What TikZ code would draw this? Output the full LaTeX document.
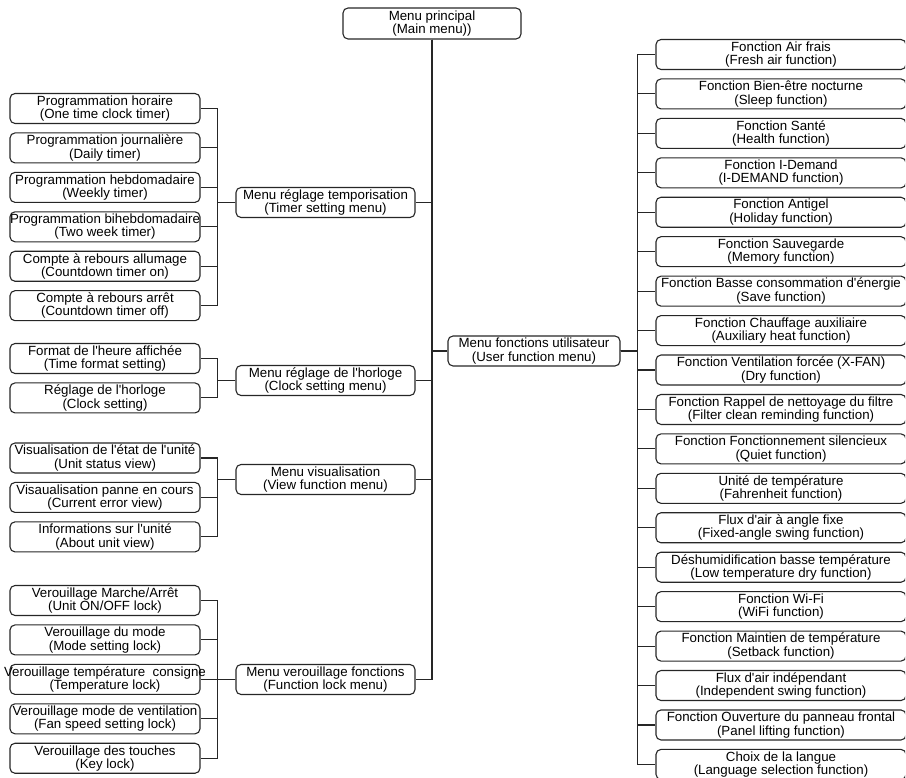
\documentclass[tikz,border=0pt]{standalone}
\usepackage{fontspec}
\setmainfont{Liberation Sans}[Ligatures=TeXOff]
\usetikzlibrary{positioning}
% two centred lines that may run past the box edge
\newcommand{\tworow}[2]{\makebox[0pt]{#1}\\\makebox[0pt]{#2}}

\begin{document}
\begin{tikzpicture}[x=1pt, y=-1pt, node distance=39.44pt, line width=1.1pt,
    every node/.style={font=\fontsize{13.3}{13.4}\selectfont},
    menubox/.style={draw=black!85, rounded corners=5pt, align=center, minimum height=30pt, inner sep=0pt},
    leafbox/.style={menubox, minimum width=190pt},
    subbox/.style={menubox, minimum width=179pt},
    funcbox/.style={menubox, minimum width=250pt},
    link/.style={draw=black!85, line width=1.1pt}]
    \useasboundingbox (0,0) rectangle (906,778);
    \clip (0,0) rectangle (905,778);

    \node[menubox, minimum width=178pt, minimum height=31pt] (main) at (432,23.5) {\tworow{Menu principal}{(Main menu))}};

    % timer setting
    \node[subbox] (timer) at (325.5,202.5) {\tworow{Menu réglage temporisation}{(Timer setting menu)}};
    \node[leafbox] (tim1) at (105,108.5) {\tworow{Programmation horaire}{(One time clock timer)}};
    \node[leafbox, below of=tim1] (tim2) {\tworow{Programmation journalière}{(Daily timer)}};
    \node[leafbox, below of=tim2] (tim3) {\tworow{Programmation hebdomadaire}{(Weekly timer)}};
    \node[leafbox, below of=tim3] (tim4) {\tworow{Programmation bihebdomadaire}{(Two week timer)}};
    \node[leafbox, below of=tim4] (tim5) {\tworow{Compte à rebours allumage}{(Countdown timer on)}};
    \node[leafbox, below of=tim5] (tim6) {\tworow{Compte à rebours arrêt}{(Countdown timer off)}};

    % clock setting
    \node[subbox] (clock) at (325.5,380.5) {\tworow{Menu réglage de l'horloge}{(Clock setting menu)}};
    \node[leafbox] (clk1) at (105,358.5) {\tworow{Format de l'heure affichée}{(Time format setting)}};
    \node[leafbox, below of=clk1] (clk2) {\tworow{Réglage de l'horloge}{(Clock setting)}};

    % view
    \node[subbox] (view) at (325.5,479.5) {\tworow{Menu visualisation}{(View function menu)}};
    \node[leafbox] (vw1) at (105,458) {\tworow{Visualisation de l'état de l'unité}{(Unit status view)}};
    \node[leafbox, below of=vw1] (vw2) {\tworow{Visaualisation panne en cours}{(Current error view)}};
    \node[leafbox, below of=vw2] (vw3) {\tworow{Informations sur l'unité}{(About unit view)}};

    % function lock
    \node[subbox] (lock) at (325.5,679.5) {\tworow{Menu verouillage fonctions}{(Function lock menu)}};
    \node[leafbox] (lk1) at (105,600.5) {\tworow{Verouillage Marche/Arrêt}{(Unit ON/OFF lock)}};
    \node[leafbox, below of=lk1] (lk2) {\tworow{Verouillage du mode}{(Mode setting lock)}};
    \node[leafbox, below of=lk2] (lk3) {\tworow{Verouillage température\ \ consigne}{(Temperature lock)}};
    \node[leafbox, below of=lk3] (lk4) {\tworow{Verouillage mode de ventilation}{(Fan speed setting lock)}};
    \node[leafbox, below of=lk4] (lk5) {\tworow{Verouillage des touches}{(Key lock)}};

    % user functions
    \node[menubox, minimum width=172pt] (user) at (534,351) {\tworow{Menu fonctions utilisateur}{(User function menu)}};
    \node[funcbox] (fn1) at (781,54.5) {\tworow{Fonction Air frais}{(Fresh air function)}};
    \node[funcbox, below of=fn1] (fn2) {\tworow{Fonction Bien-être nocturne}{(Sleep function)}};
    \node[funcbox, below of=fn2] (fn3) {\tworow{Fonction Santé}{(Health function)}};
    \node[funcbox, below of=fn3] (fn4) {\tworow{Fonction I-Demand}{(I-DEMAND function)}};
    \node[funcbox, below of=fn4] (fn5) {\tworow{Fonction Antigel}{(Holiday function)}};
    \node[funcbox, below of=fn5] (fn6) {\tworow{Fonction Sauvegarde}{(Memory function)}};
    \node[funcbox, below of=fn6] (fn7) {\tworow{Fonction Basse consommation d'énergie}{(Save function)}};
    \node[funcbox, below of=fn7] (fn8) {\tworow{Fonction Chauffage auxiliaire}{(Auxiliary heat function)}};
    \node[funcbox, below of=fn8] (fn9) {\tworow{Fonction Ventilation forcée (X-FAN)}{(Dry function)}};
    \node[funcbox, below of=fn9] (fn10) {\tworow{Fonction Rappel de nettoyage du filtre}{(Filter clean reminding function)}};
    \node[funcbox, below of=fn10] (fn11) {\tworow{Fonction Fonctionnement silencieux}{(Quiet function)}};
    \node[funcbox, below of=fn11] (fn12) {\tworow{Unité de température}{(Fahrenheit function)}};
    \node[funcbox, below of=fn12] (fn13) {\tworow{Flux d'air à angle fixe}{(Fixed-angle swing function)}};
    \node[funcbox, below of=fn13] (fn14) {\tworow{Déshumidification basse température}{(Low temperature dry function)}};
    \node[funcbox, below of=fn14] (fn15) {\tworow{Fonction Wi-Fi}{(WiFi function)}};
    \node[funcbox, below of=fn15] (fn16) {\tworow{Fonction Maintien de température}{(Setback function)}};
    \node[funcbox, below of=fn16] (fn17) {\tworow{Flux d'air indépendant}{(Independent swing function)}};
    \node[funcbox, below of=fn17] (fn18) {\tworow{Fonction Ouverture du panneau frontal}{(Panel lifting function)}};
    \node[funcbox, below of=fn18] (fn19) {\tworow{Choix de la langue}{(Language selection function)}};

    % trunk
    \draw[link] (main.south) |- (timer.east);
    \draw[link] (main.south) |- (clock.east);
    \draw[link] (main.south) |- (view.east);
    \draw[link] (main.south) |- (lock.east);
    \draw[link] (main.south) |- (user.west);

    % left brackets
    \draw[link] (timer.west) -- ++(-18,0) |- (tim1.east);
    \draw[link] (timer.west) -- ++(-18,0) |- (tim2.east);
    \draw[link] (timer.west) -- ++(-18,0) |- (tim3.east);
    \draw[link] (timer.west) -- ++(-18,0) |- (tim4.east);
    \draw[link] (timer.west) -- ++(-18,0) |- (tim5.east);
    \draw[link] (timer.west) -- ++(-18,0) |- (tim6.east);
    \draw[link] (clock.west) -- ++(-18,0) |- (clk1.east);
    \draw[link] (clock.west) -- ++(-18,0) |- (clk2.east);
    \draw[link] (view.west) -- ++(-18,0) |- (vw1.east);
    \draw[link] (view.west) -- ++(-18,0) |- (vw2.east);
    \draw[link] (view.west) -- ++(-18,0) |- (vw3.east);
    \draw[link] (lock.west) -- ++(-18,0) |- (lk1.east);
    \draw[link] (lock.west) -- ++(-18,0) |- (lk2.east);
    \draw[link] (lock.west) -- ++(-18,0) |- (lk3.east);
    \draw[link] (lock.west) -- ++(-18,0) |- (lk4.east);
    \draw[link] (lock.west) -- ++(-18,0) |- (lk5.east);

    % right bracket
    \draw[link] (user.east) -- ++(17,0) |- (fn1.west);
    \draw[link] (user.east) -- ++(17,0) |- (fn2.west);
    \draw[link] (user.east) -- ++(17,0) |- (fn3.west);
    \draw[link] (user.east) -- ++(17,0) |- (fn4.west);
    \draw[link] (user.east) -- ++(17,0) |- (fn5.west);
    \draw[link] (user.east) -- ++(17,0) |- (fn6.west);
    \draw[link] (user.east) -- ++(17,0) |- (fn7.west);
    \draw[link] (user.east) -- ++(17,0) |- (fn8.west);
    \draw[link] (user.east) -- ++(17,0) |- (fn9.west);
    \draw[link] (user.east) -- ++(17,0) |- (fn10.west);
    \draw[link] (user.east) -- ++(17,0) |- (fn11.west);
    \draw[link] (user.east) -- ++(17,0) |- (fn12.west);
    \draw[link] (user.east) -- ++(17,0) |- (fn13.west);
    \draw[link] (user.east) -- ++(17,0) |- (fn14.west);
    \draw[link] (user.east) -- ++(17,0) |- (fn15.west);
    \draw[link] (user.east) -- ++(17,0) |- (fn16.west);
    \draw[link] (user.east) -- ++(17,0) |- (fn17.west);
    \draw[link] (user.east) -- ++(17,0) |- (fn18.west);
    \draw[link] (user.east) -- ++(17,0) |- (fn19.west);
\end{tikzpicture}
\end{document}
